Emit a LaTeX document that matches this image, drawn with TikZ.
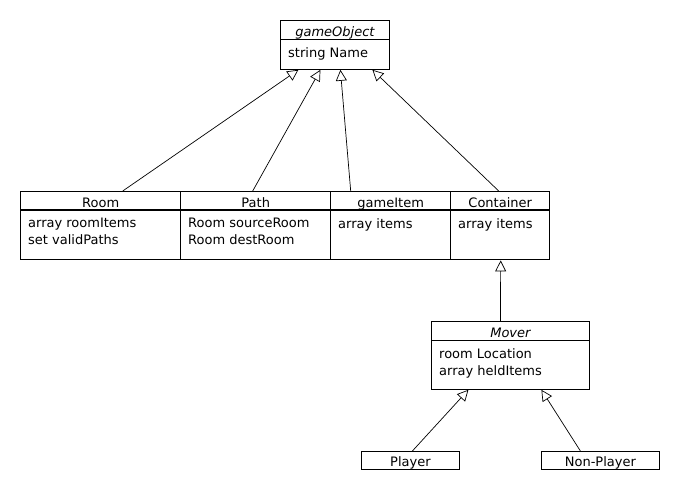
\documentclass[tikz,border=0pt]{standalone}
\usepackage{fontspec}
\setmainfont{DejaVu Sans}
\usetikzlibrary{arrows.meta,positioning}

\begin{document}
\begin{tikzpicture}[x=1pt,y=-1pt,
    classbox/.style={draw,rectangle,inner sep=0pt,anchor=north west,line width=0.8pt},
    rowbox/.style={classbox,line width=1.4pt},
    classname/.style={anchor=base,inner sep=0pt,font=\fontsize{13}{15}\selectfont},
    attrs/.style={anchor=north west,align=left,inner sep=0pt,font=\fontsize{13}{17}\selectfont},
    inherit/.style={-{Triangle[open,length=11pt,width=11pt]},line width=0.7pt}]

    \useasboundingbox (0,0) rectangle (680,490);

    % gameObject
    \node[classbox,minimum width=109pt,minimum height=49pt] (gameobj) at (280,20) {};
    \node[classname] (gameobjname) at ([yshift=-16pt]gameobj.north) {\itshape gameObject};
    \draw[line width=0.8pt] ([yshift=-19pt]gameobj.north west) -- ([yshift=-19pt]gameobj.north east);
    \node[attrs] (gameobjattrs) at ([xshift=8pt,yshift=-27pt]gameobj.north west) {string Name};

    % Room
    \node[rowbox,minimum width=160pt,minimum height=68pt] (room) at (20,191) {};
    \node[classname] (roomname) at ([yshift=-16pt]room.north) {Room};
    \draw[line width=1.4pt] ([yshift=-19pt]room.north west) -- ([yshift=-19pt]room.north east);
    \node[attrs] (roomattrs) at ([xshift=8pt,yshift=-27pt]room.north west) {array roomItems\\set validPaths};

    % Path
    \node[rowbox,minimum width=150pt,minimum height=68pt] (path) at (180,191) {};
    \node[classname] (pathname) at ([yshift=-16pt]path.north) {Path};
    \draw[line width=1.4pt] ([yshift=-19pt]path.north west) -- ([yshift=-19pt]path.north east);
    \node[attrs] (pathattrs) at ([xshift=8pt,yshift=-27pt]path.north west) {Room sourceRoom\\Room destRoom};

    % gameItem
    \node[rowbox,minimum width=120pt,minimum height=68pt] (gameitem) at (330,191) {};
    \node[classname] (gameitemname) at ([yshift=-16pt]gameitem.north) {gameItem};
    \draw[line width=1.4pt] ([yshift=-19pt]gameitem.north west) -- ([yshift=-19pt]gameitem.north east);
    \node[attrs] (gameitemattrs) at ([xshift=8pt,yshift=-27pt]gameitem.north west) {array items};

    % Container
    \node[rowbox,minimum width=99pt,minimum height=68pt] (container) at (450,191) {};
    \node[classname] (containername) at ([yshift=-16pt]container.north) {Container};
    \draw[line width=1.4pt] ([yshift=-19pt]container.north west) -- ([yshift=-19pt]container.north east);
    \node[attrs] (containerattrs) at ([xshift=8pt,yshift=-27pt]container.north west) {array items};

    % Mover
    \node[classbox,minimum width=158pt,minimum height=68pt] (mover) at (431,321) {};
    \node[classname] (movername) at ([yshift=-16pt]mover.north) {\itshape Mover};
    \draw[line width=0.8pt] ([yshift=-19pt]mover.north west) -- ([yshift=-19pt]mover.north east);
    \node[attrs] (moverattrs) at ([xshift=8pt,yshift=-27pt]mover.north west) {room Location\\array heldItems};

    % Player, Non-Player
    \node[classbox,minimum width=98pt,minimum height=18pt] (player) at (361,451) {};
    \node[classname] (playername) at ([yshift=-15pt]player.north) {Player};
    \node[classbox,minimum width=118pt,minimum height=18pt] (nonplayer) at (541,451) {};
    \node[classname] (nonplayername) at ([yshift=-15pt]nonplayer.north) {Non-Player};

    % generalisation
    \draw[inherit] ([xshift=22pt]room.north) -- ([xshift=-36.5pt]gameobj.south);
    \draw[inherit] ([xshift=-3pt]path.north) -- ([xshift=-14.5pt]gameobj.south);
    \draw[inherit] ([xshift=-40pt]gameitem.north) -- ([xshift=5.5pt]gameobj.south);
    \draw[inherit] ([xshift=-1.5pt]container.north) -- ([xshift=37.5pt]gameobj.south);
    \draw[inherit] ([xshift=-10pt]mover.north) -- ([xshift=0.5pt]container.south);
    \draw[inherit] ([xshift=2pt]player.north) -- ([xshift=-42pt]mover.south);
    \draw[inherit] ([xshift=-20pt]nonplayer.north) -- ([xshift=31pt]mover.south);

\end{tikzpicture}
\end{document}
